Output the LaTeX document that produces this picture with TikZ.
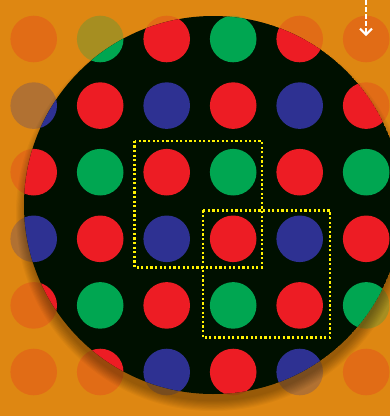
\documentclass[tikz,border=0pt]{standalone}
\usetikzlibrary{arrows.meta}

\definecolor{fondo}{HTML}{DE8712}
\definecolor{rojo}{HTML}{ED1C24}
\definecolor{verde}{HTML}{00A651}
\definecolor{azul}{HTML}{2E3192}
\definecolor{negro}{HTML}{001000}
\definecolor{amarillo}{HTML}{FFF200}

% rejilla de puntos, fila por fila
\newcommand\dibujapuntos{%
  \foreach \fila/\lista in {%
      0/{rojo,verde,rojo,verde,rojo,rojo},
      1/{azul,rojo,azul,rojo,azul,rojo},
      2/{rojo,verde,rojo,verde,rojo,verde},
      3/{azul,rojo,azul,rojo,azul,rojo},
      4/{rojo,verde,rojo,verde,rojo,verde},
      5/{rojo,rojo,azul,rojo,azul,rojo}}{
    \foreach \tono [count=\col from 0] in \lista
      \fill [punto, fill=\tono] (33.7+66.5*\col, 39+66.6*\fila) circle [];
  }%
}

\begin{document}
\begin{tikzpicture}[
        x=1pt, y=-1pt,
        punto/.style={radius=23.3},
        lente/.style={radius=189},
        sombra/.style={black, opacity=0.035},
        marco/.style={draw=amarillo, line width=2.2pt, dash pattern=on 2.2pt off 2.4pt},
        flecha/.style={-{Straight Barb[length=6pt, width=12pt, line width=2pt]}, draw=white, line width=2pt, dash pattern=on 4.5pt off 2.5pt}
    ]
    \useasboundingbox (0,0) rectangle (390,416);
    \fill [fondo] (0,0) rectangle (390,416);

    \coordinate (centro) at (213,205);

    % puntos tapados por el fondo
    \dibujapuntos
    \fill [fondo, opacity=0.75] (0,0) rectangle (390,416);

    \foreach \k in {1,...,10}
        \fill [sombra] ([yshift=-9pt]centro) circle [radius=186+1.1*\k];

    % lente
    \begin{scope}
        \clip (centro) circle [lente];
        \fill [negro] (centro) circle [lente];
        \dibujapuntos
    \end{scope}

    \coordinate (m1a) at (134.5,140.8);
    \coordinate (m1b) at (261.8,267.4);
    \coordinate (m2a) at (202.8,210.4);
    \coordinate (m2b) at (330.1,337.4);
    \draw [marco] (m1a) rectangle (m1b);
    \draw [marco] (m2a) rectangle (m2b);

    \coordinate (fa) at (366,0);
    \coordinate (fb) at (366,36);
    \draw [flecha] (fa) -- (fb);
\end{tikzpicture}
\end{document}
